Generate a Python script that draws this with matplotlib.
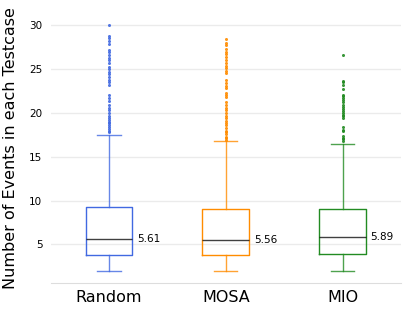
import matplotlib
matplotlib.use("Agg")
import matplotlib.pyplot as plt

# =====================================================
# DATA
# =====================================================

methods = ["Random", "MOSA", "MIO"]
colors = ["royalblue", "darkorange", "forestgreen"]

medians = [5.61, 5.56, 5.89]
q1 = [3.85, 3.85, 3.95]
q3 = [9.31, 9.01, 9.0]
whisker_low = [2.0, 2.0, 2.0]
whisker_high = [17.5, 16.75, 16.45]

random_fliers = [17.8, 18.0, 18.2, 18.4, 18.6, 18.8, 19.0, 19.2, 19.4,
                 19.7, 20.0, 20.3, 20.6, 20.9, 21.4, 21.7, 22.0, 23.2,
                 23.5, 23.8, 24.1, 24.4, 24.7, 25.0, 25.2, 25.7, 26.0,
                 26.3, 26.6, 27.0, 27.2, 27.9, 28.2, 28.5, 28.8, 30.0]
mosa_fliers = [16.9, 17.1, 17.3, 17.6, 17.8, 18.0, 18.3, 18.6, 18.8,
               19.1, 19.4, 19.7, 20.0, 20.3, 20.6, 20.9, 21.2, 21.8,
               22.0, 22.3, 22.9, 23.1, 23.4, 23.8, 24.6, 24.8, 25.1,
               25.4, 25.7, 26.0, 26.4, 26.7, 27.0, 27.3, 27.8, 28.0, 28.4]
mio_fliers = [16.8, 17.0, 17.2, 17.4, 17.9, 18.1, 18.4, 19.4, 19.6,
              19.8, 20.0, 20.2, 20.5, 20.7, 20.9, 21.3, 21.5, 21.7,
              21.9, 22.1, 22.7, 23.2, 23.5, 23.7, 26.6]
fliers = [random_fliers, mosa_fliers, mio_fliers]

# =====================================================
# PLOT
# =====================================================

fig = plt.figure(figsize=(4.07, 3.11), dpi=100)
ax = fig.add_axes([0.1246, 0.09, 0.8604, 0.868])

for i, name in enumerate(methods):

    stats = [{
        "med": medians[i],
        "q1": q1[i],
        "q3": q3[i],
        "whislo": whisker_low[i],
        "whishi": whisker_high[i],
        "fliers": fliers[i],
        "label": name,
    }]

    c = colors[i]

    ax.bxp(
        stats,
        positions=[i],
        widths=0.4,
        showfliers=True,
        boxprops=dict(color=c, linewidth=1.0),
        whiskerprops=dict(color=c, linewidth=1.0, alpha=0.8),
        capprops=dict(color=c, linewidth=1.0, alpha=0.8),
        medianprops=dict(color="black", linewidth=1.0, alpha=0.75),
        flierprops=dict(marker="o", markersize=2.2, markerfacecolor=c,
                        markeredgecolor="none", alpha=0.9),
    )

    ax.text(
        i + 0.24,
        medians[i],
        f"{medians[i]:.2f}",
        va="center",
        ha="left",
        fontsize=7.5,
    )

ax.set_xlim(-0.5, 2.5)
ax.set_ylim(0.6, 31.4)
ax.set_xticks(range(len(methods)))
ax.set_xticklabels(methods, fontsize=11.5)
ax.set_yticks([5, 10, 15, 20, 25, 30])
ax.tick_params(axis="y", labelsize=7.5, length=0, pad=6)
ax.tick_params(axis="x", length=0, pad=5)

ax.set_ylabel("Number of Events in each Testcase", fontsize=11.5, labelpad=8)

ax.grid(axis="y", color="#ebebeb", linewidth=1.0)
ax.set_axisbelow(True)

for side in ["left", "right", "top"]:
    ax.spines[side].set_visible(False)
ax.spines["bottom"].set_color("#dddddd")

fig.savefig("out.png", dpi=100)
